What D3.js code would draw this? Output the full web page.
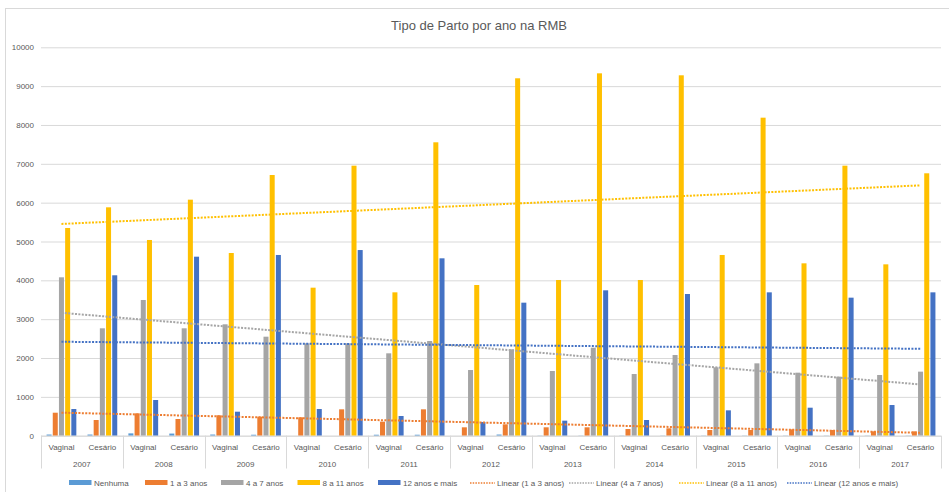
<!DOCTYPE html>
<html>
<head>
<meta charset="utf-8">
<script src="https://cdn.jsdelivr.net/npm/d3@7/dist/d3.min.js"></script>
<style>
  html, body { margin: 0; padding: 0; background: #fff; }
  svg { display: block; font-family: "Liberation Sans", Arial, sans-serif; }
</style>
</head>
<body>
<svg id="chart" width="949" height="492"></svg>
<script>
// Births in the RMB by delivery type and mother's years of schooling
const years = ["2007","2008","2009","2010","2011","2012","2013","2014","2015","2016","2017"];
const deliveryTypes = ["Vaginal","Cesário"];
const seriesNames = ["Nenhuma","1 a 3 anos","4 a 7 anos","8 a 11 anos","12 anos e mais"];
const seriesColors = ["#5B9BD5","#ED7D31","#A5A5A5","#FFC000","#4472C4"];
const yTicks = [0,1000,2000,3000,4000,5000,6000,7000,8000,9000,10000];

// One value per category, in order: 2007 Vaginal, 2007 Cesário, 2008 Vaginal, ...
const nenhuma      = [30,30, 60,55, 30,25, 0,0, 25,25, 0,30, 5,5, 5,5, 5,5, 5,5, 5,5];
const anos1a3      = [592,404, 576,430, 525,490, 473,679, 361,679, 216,293, 216,216, 172,190, 147,147, 164,147, 112,112];
const anos4a7      = [4078,2765, 3494,2765, 2868,2549, 2378,2378, 2121,2438, 1691,2224, 1666,2266, 1588,2078, 1760,1863, 1623,1520, 1563,1649];
const anos8a11     = [5348,5880, 5039,6077, 4704,6712, 3811,6952, 3691,7554, 3880,9202, 4009,9330, 4009,9279, 4653,8188, 4438,6952, 4412,6756];
const anos12mais   = [687,4130, 919,4609, 618,4653, 687,4780, 507,4567, 353,3425, 387,3743, 404,3648, 653,3691, 721,3554, 790,3691];

// Series that carry a linear trendline
const trendSeries = ["1 a 3 anos","4 a 7 anos","8 a 11 anos","12 anos e mais"];

const seriesValues = [nenhuma, anos1a3, anos4a7, anos8a11, anos12mais];

const categories = [];
years.forEach(y => deliveryTypes.forEach(t => categories.push({ year: y, type: t, key: y + "|" + t })));

const svg = d3.select("#chart");
const textColor = "#595959";
const gridColor = "#d9d9d9";

// chart frame
svg.append("rect")
  .attr("x", 5.5).attr("y", 8.5)
  .attr("width", 960).attr("height", 500)
  .attr("fill", "none").attr("stroke", gridColor).attr("stroke-width", 1);

const plot = { left: 41, right: 941, top: 47.3, bottom: 435.7 };

const x = d3.scaleBand().domain(categories.map(c => c.key)).range([plot.left, plot.right]).padding(0);
const xYear = d3.scaleBand().domain(years).range([plot.left, plot.right]).padding(0);
const xSeries = d3.scaleBand().domain(seriesNames).range([0, x.bandwidth()])
  .paddingInner(0.19).paddingOuter(0.9);
const y = d3.scaleLinear().domain([0, 10000]).range([plot.bottom, plot.top]);
const color = d3.scaleOrdinal().domain(seriesNames).range(seriesColors);

// title
svg.append("text")
  .attr("x", 479).attr("y", 29.5)
  .attr("text-anchor", "middle")
  .attr("fill", textColor)
  .attr("font-size", 13)
  .text("Tipo de Parto por ano na RMB");

// gridlines
const yAxis = d3.axisLeft(y).tickValues(yTicks).tickSize(-(plot.right - plot.left)).tickPadding(7).tickFormat(d3.format("d"));
const gy = svg.append("g").attr("transform", `translate(${plot.left},0)`).call(yAxis);
gy.select(".domain").remove();
gy.selectAll(".tick line").attr("stroke", gridColor).attr("stroke-width", 1);
gy.selectAll(".tick text").attr("fill", textColor).attr("font-size", 8).attr("font-family", "Liberation Sans, Arial, sans-serif");

// bars
const groups = svg.append("g").selectAll("g")
  .data(categories.map((c, i) => ({ c, i })))
  .join("g")
  .attr("transform", d => `translate(${x(d.c.key)},0)`);

groups.selectAll("rect")
  .data(d => seriesNames.map((s, k) => ({ s, v: seriesValues[k][d.i] })))
  .join("rect")
  .attr("x", d => xSeries(d.s))
  .attr("width", xSeries.bandwidth())
  .attr("y", d => y(d.v))
  .attr("height", d => y(0) - y(d.v))
  .attr("fill", d => color(d.s));

// category axis line
svg.append("line")
  .attr("x1", plot.left).attr("x2", plot.right)
  .attr("y1", plot.bottom + 0.5).attr("y2", plot.bottom + 0.5)
  .attr("stroke", gridColor).attr("stroke-width", 1);

// year separators
const bounds = years.map(yv => xYear(yv)).concat([plot.right]);
svg.append("g").selectAll("line")
  .data(bounds)
  .join("line")
  .attr("x1", d => Math.round(d) + 0.5).attr("x2", d => Math.round(d) + 0.5)
  .attr("y1", plot.bottom).attr("y2", 468.5)
  .attr("stroke", gridColor).attr("stroke-width", 1);

// inner labels (delivery type)
svg.append("g").selectAll("text")
  .data(categories)
  .join("text")
  .attr("x", d => x(d.key) + x.bandwidth() / 2)
  .attr("y", 450.3)
  .attr("text-anchor", "middle")
  .attr("fill", textColor)
  .attr("font-size", 8)
  .text(d => d.type);

// outer labels (year)
svg.append("g").selectAll("text")
  .data(years)
  .join("text")
  .attr("x", d => xYear(d) + xYear.bandwidth() / 2)
  .attr("y", 466.8)
  .attr("text-anchor", "middle")
  .attr("fill", textColor)
  .attr("font-size", 8)
  .text(d => d);

// linear trendlines (least squares over category index)
function linearFit(vals) {
  const n = vals.length;
  const mx = (n - 1) / 2;
  const my = d3.mean(vals);
  let sxy = 0, sxx = 0;
  vals.forEach((v, i) => { sxy += (i - mx) * (v - my); sxx += (i - mx) * (i - mx); });
  const b = sxy / sxx;
  const a = my - b * mx;
  return [a, a + b * (n - 1)];
}
const trendG = svg.append("g");
trendSeries.forEach(s => {
  const k = seriesNames.indexOf(s);
  const [v0, v1] = linearFit(seriesValues[k]);
  const c0 = categories[0].key, c1 = categories[categories.length - 1].key;
  trendG.append("line")
    .attr("x1", x(c0) + x.bandwidth() / 2)
    .attr("x2", x(c1) + x.bandwidth() / 2)
    .attr("y1", y(v0)).attr("y2", y(v1))
    .attr("stroke", color(s))
    .attr("stroke-width", 2)
    .attr("stroke-dasharray", "2 1.4");
});

// legend
const legendItems = [
  { label: "Nenhuma", s: "Nenhuma", kind: "bar", x: 69 },
  { label: "1 a 3 anos", s: "1 a 3 anos", kind: "bar", x: 145 },
  { label: "4 a 7 anos", s: "4 a 7 anos", kind: "bar", x: 221 },
  { label: "8 a 11 anos", s: "8 a 11 anos", kind: "bar", x: 297.5 },
  { label: "12 anos e mais", s: "12 anos e mais", kind: "bar", x: 378 },
  { label: "Linear (1 a 3 anos)", s: "1 a 3 anos", kind: "line", x: 470 },
  { label: "Linear (4 a 7 anos)", s: "4 a 7 anos", kind: "line", x: 569 },
  { label: "Linear (8 a 11 anos)", s: "8 a 11 anos", kind: "line", x: 679 },
  { label: "Linear (12 anos e mais)", s: "12 anos e mais", kind: "line", x: 787 }
];
const lg = svg.append("g").selectAll("g").data(legendItems).join("g")
  .attr("transform", d => `translate(${d.x},0)`);
lg.filter(d => d.kind === "bar").append("rect")
  .attr("x", 0).attr("y", 480).attr("width", 22.5).attr("height", 5)
  .attr("fill", d => color(d.s));
lg.filter(d => d.kind === "line").append("line")
  .attr("x1", 0).attr("x2", 25).attr("y1", 483).attr("y2", 483)
  .attr("stroke", d => color(d.s)).attr("stroke-width", 1.5)
  .attr("stroke-dasharray", "1.5 1.2");
lg.append("text")
  .attr("x", d => d.kind === "bar" ? 25 : 27)
  .attr("y", 486)
  .attr("fill", textColor)
  .attr("font-size", 8)
  .text(d => d.label);
</script>
</body>
</html>
